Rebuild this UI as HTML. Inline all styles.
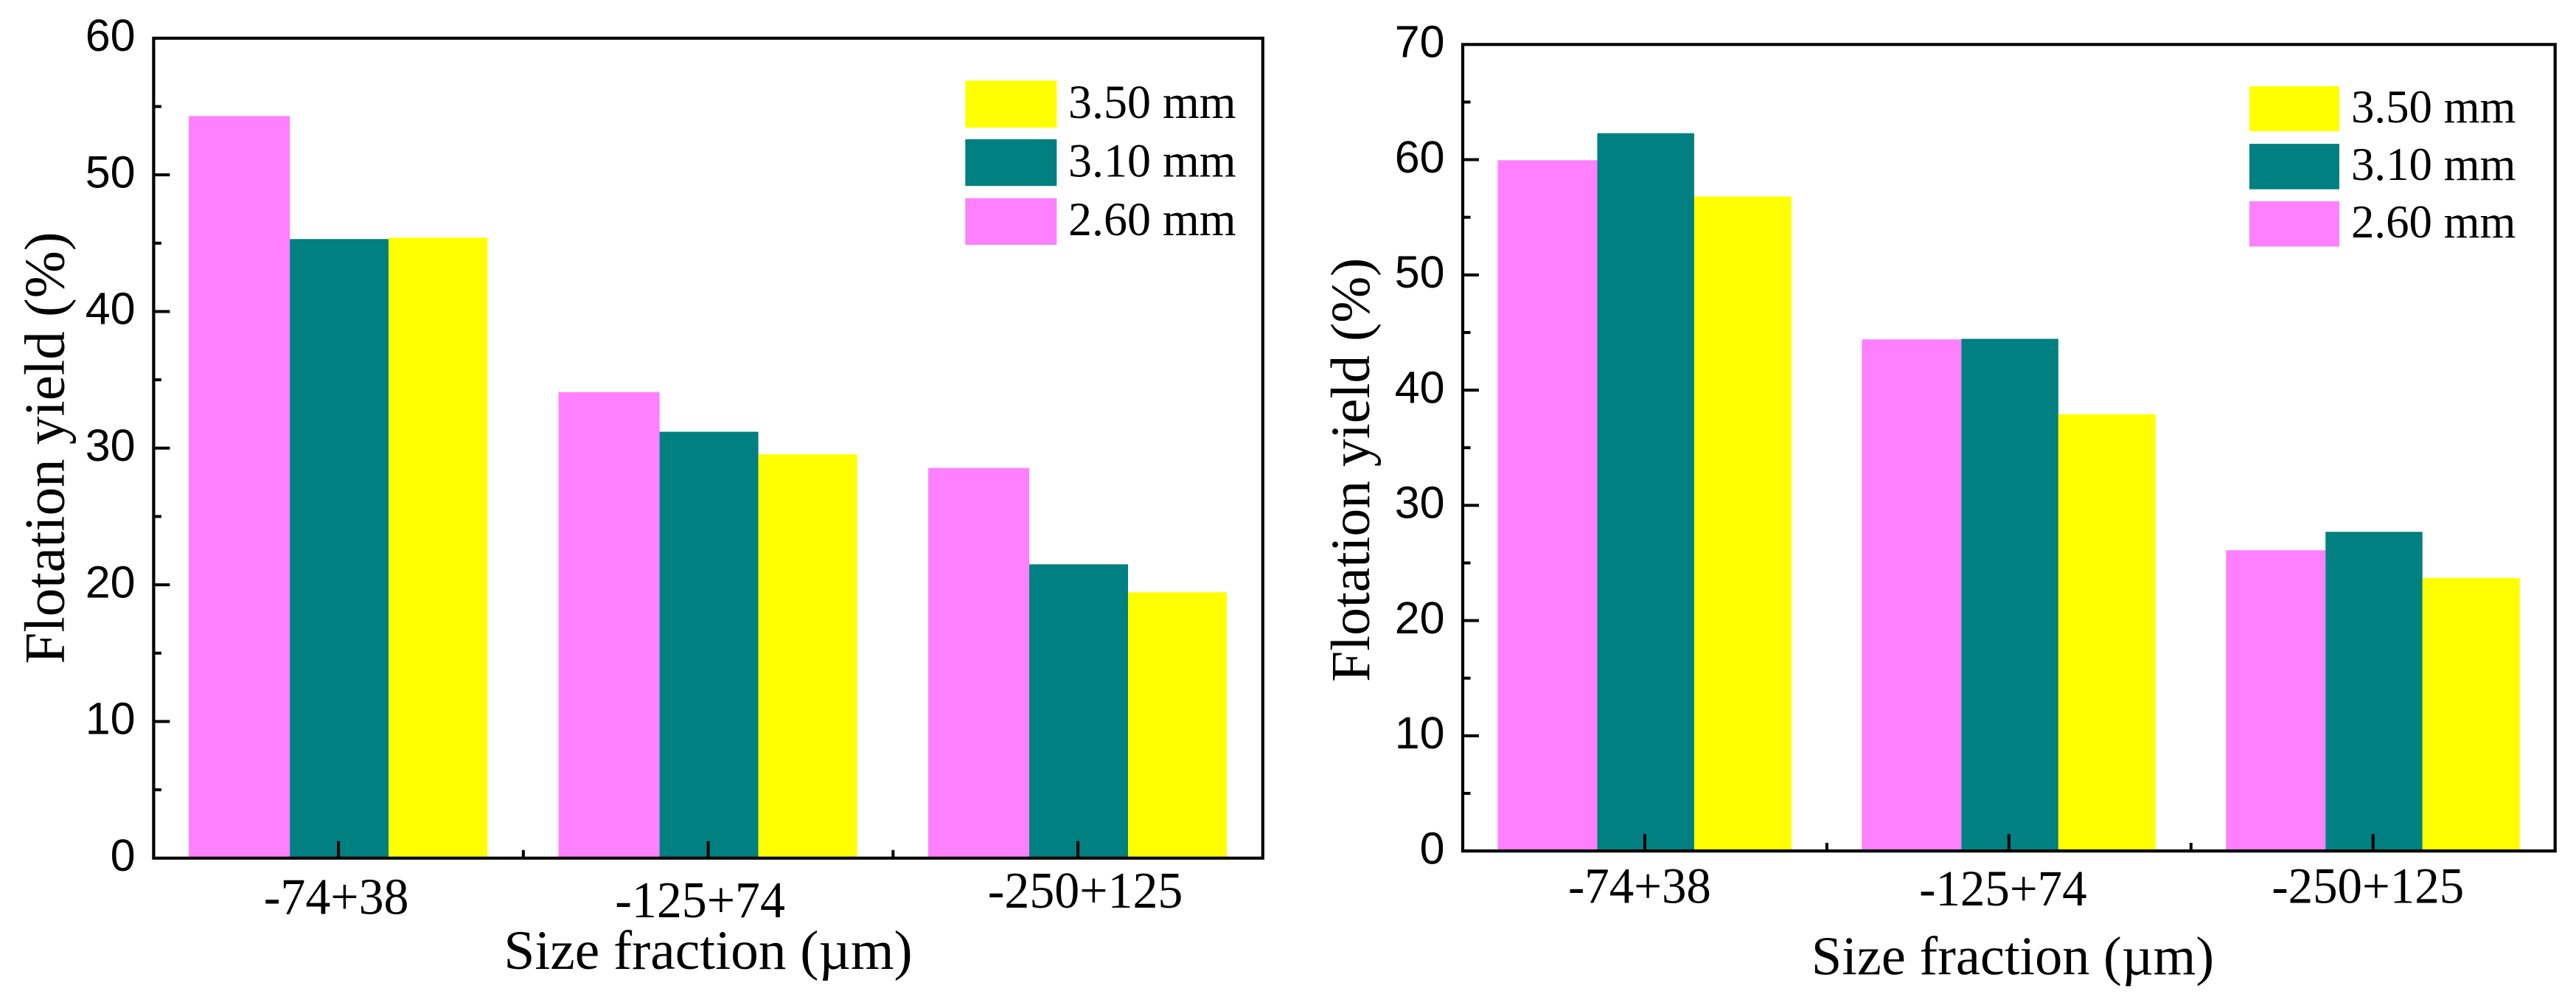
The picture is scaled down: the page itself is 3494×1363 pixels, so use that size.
<!DOCTYPE html>
<html lang="en">
<head>
<meta charset="utf-8">
<title>Flotation yield by size fraction</title>
<style>
  html,body{margin:0;padding:0;background:#fff;width:3494px;height:1363px;overflow:hidden}
  svg{display:block}
  .serif{font-family:"Liberation Serif","Times New Roman",serif;fill:#000}
  .sans{font-family:"Liberation Sans",Arial,sans-serif;fill:#000}
</style>
</head>
<body>
<svg id="figure" xmlns="http://www.w3.org/2000/svg" width="3494" height="1363" viewBox="0 0 3494 1363">
  <rect width="3494" height="1363" fill="#fff"/>
  <g id="panel-left"></g>
  <g id="panel-right"></g>

  <g>
    <text class="serif" x="960.5" y="1314" font-size="75.4" text-anchor="middle">Size fraction (µm)</text>
    <text class="serif" transform="translate(86.5 607.5) rotate(-90)" font-size="77" text-anchor="middle">Flotation yield (%)</text>
  </g>
  <g>
    <rect x="1309.3" y="109.4" width="124" height="63.8" fill="#FFFF00"/>
    <rect x="1309.3" y="188.8" width="124" height="63.4" fill="#008080"/>
    <rect x="1309.3" y="268.8" width="124" height="63.3" fill="#FF80FF"/>
    <text class="serif" transform="translate(1449 160) scale(.985 1)" font-size="65">3.50 mm</text>
    <text class="serif" transform="translate(1449 239.5) scale(.985 1)" font-size="65">3.10 mm</text>
    <text class="serif" transform="translate(1449 319) scale(.985 1)" font-size="65">2.60 mm</text>
  </g>

  <g>
    <text class="serif" x="2730" y="1321.6" font-size="74.3" text-anchor="middle">Size fraction (µm)</text>
    <text class="serif" transform="translate(1857 637.3) rotate(-90)" font-size="75.6" text-anchor="middle">Flotation yield (%)</text>
  </g>
  <g>
    <rect x="3051" y="117" width="122" height="61" fill="#FFFF00"/>
    <rect x="3051" y="195" width="122" height="61.7" fill="#008080"/>
    <rect x="3051" y="273" width="122" height="61.4" fill="#FF80FF"/>
    <text class="serif" transform="translate(3189 165.8) scale(.985 1)" font-size="63.8">3.50 mm</text>
    <text class="serif" transform="translate(3189 244) scale(.985 1)" font-size="63.8">3.10 mm</text>
    <text class="serif" transform="translate(3189 322.1) scale(.985 1)" font-size="63.8">2.60 mm</text>
  </g>
</svg>

<script>
// Chart data
const categories = ['-74+38', '-125+74', '-250+125'];
const seriesNames = ['2.60 mm', '3.10 mm', '3.50 mm'];

const leftYield260 = [54.3, 34.1, 28.55];
const leftYield310 = [45.3, 31.2, 21.5];
const leftYield350 = [45.4, 29.55, 19.45];
const leftTickLabels = [0, 10, 20, 30, 40, 50, 60];

const rightYield260 = [59.95, 44.4, 26.1];
const rightYield310 = [62.3, 44.45, 27.7];
const rightYield350 = [56.8, 37.9, 23.7];
const rightTickLabels = [0, 10, 20, 30, 40, 50, 60, 70];

const SVG_NS = 'http://www.w3.org/2000/svg';
const COLORS = ['#FF80FF', '#008080', '#FFFF00'];

function make(parent, tag, props, text) {
  const el = document.createElementNS(SVG_NS, tag);
  for (const k in props) el.setAttribute(k, props[k]);
  if (text !== undefined) el.textContent = text;
  parent.appendChild(el);
  return el;
}

function drawPanel(cfg) {
  const g = document.getElementById(cfg.id);
  const yMax = cfg.ticks[cfg.ticks.length - 1];
  const yScale = v => cfg.y0 + (cfg.y1 - cfg.y0) * v / yMax;
  const band = (cfg.x1 - cfg.x0) / categories.length;
  const xScale = i => cfg.x0 + band * (i + 0.5);

  // bars
  cfg.series.forEach((values, s) => {
    values.forEach((v, c) => {
      const cx = xScale(c);
      const left = cx + cfg.barEdges[s];
      const right = cx + cfg.barEdges[s + 1];
      const top = yScale(v);
      const bar = make(g, 'rect', {x: left, y: top, width: right - left, height: cfg.y0 - top, fill: COLORS[s]});
      
      
    });
  });

  // y ticks: major at labelled values, minor halfway between
  const stroke = {stroke: '#000', 'stroke-width': 4};
  cfg.ticks.forEach((t, i) => {
    const y = yScale(t);
    if (i > 0 && i < cfg.ticks.length - 1) {
      const major = make(g, 'line', Object.assign({x1: cfg.x0, x2: cfg.x0 + 22, y1: y, y2: y}, stroke));
      
      
    }
    if (i > 0) {
      const my = yScale((t + cfg.ticks[i - 1]) / 2);
      const minor = make(g, 'line', Object.assign({x1: cfg.x0, x2: cfg.x0 + 10.5, y1: my, y2: my}, stroke));
      
      
    }
    const label = make(g, 'text', {class: 'sans', x: cfg.yLabelX, y: y + 17.2, 'font-size': 61, 'text-anchor': 'end'}, String(t));
    
    
  });

  // x ticks and labels
  categories.forEach((name, i) => {
    const cx = xScale(i);
    const major = make(g, 'line', Object.assign({x1: cx, x2: cx, y1: cfg.y0, y2: cfg.y0 - 23}, stroke));
    
    
    if (i < categories.length - 1) {
      const minor = make(g, 'line', Object.assign({x1: cx + band / 2, x2: cx + band / 2, y1: cfg.y0, y2: cfg.y0 - 11}, stroke));
      
      
    }
    const label = make(g, 'text', {
      class: 'serif',
      transform: 'translate(' + (cx + cfg.labelDx[i]) + ' ' + cfg.labelY[i] + ') scale(.97 1)',
      'font-size': cfg.labelSize,
      'text-anchor': 'middle'
    }, name);
    
    
  });

  // frame
  const frame = make(g, 'path', {
    d: 'M' + cfg.x0 + ' ' + cfg.y0 + 'V' + cfg.y1 + 'H' + cfg.x1 + 'V' + cfg.y0 + 'Z',
    fill: 'none', stroke: '#000', 'stroke-width': 4.2, 'stroke-linejoin': 'miter'
  });
  
  
}

drawPanel({
  id: 'panel-left',
  x0: 208.4, x1: 1712.8, y0: 1163.8, y1: 51.8,
  ticks: leftTickLabels,
  series: [leftYield260, leftYield310, leftYield350],
  barEdges: [-203, -66, 68, 202],
  yLabelX: 183.6,
  labelDx: [-3, -11, 10],
  labelY: [1239.5, 1244, 1231],
  labelSize: 70
});

drawPanel({
  id: 'panel-right',
  x0: 1984, x1: 3465.7, y0: 1154.1, y1: 60.3,
  ticks: rightTickLabels,
  series: [rightYield260, rightYield310, rightYield350],
  barEdges: [-199.5, -64.5, 67, 199],
  yLabelX: 1959.6,
  labelDx: [-7, -8, -7],
  labelY: [1224.5, 1228, 1224.5],
  labelSize: 69
});
</script>
</body>
</html>
